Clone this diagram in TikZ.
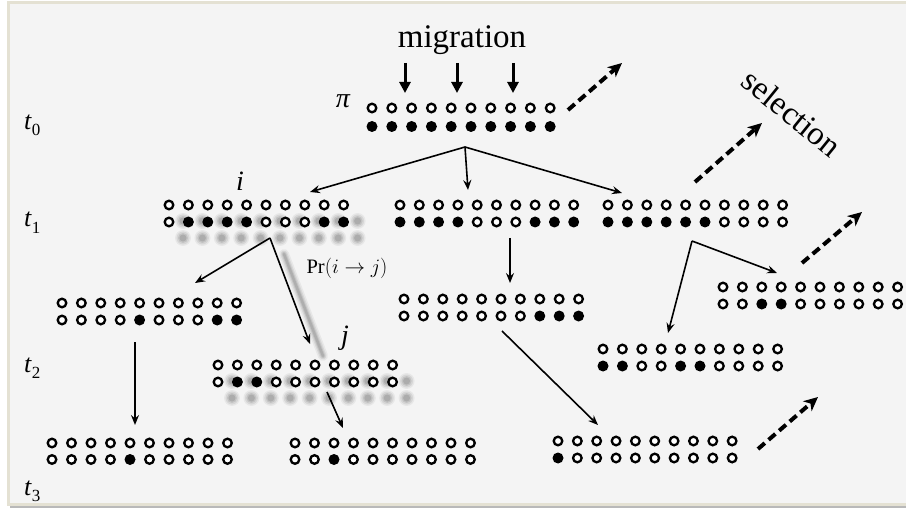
\RequirePackage{fix-cm}
\documentclass[tikz,border=0pt]{standalone}
\usepackage{fontspec}
\setmainfont{Liberation Serif}
\usetikzlibrary{arrows.meta}
\definecolor{bgc}{HTML}{F4F4F4}
\definecolor{framec}{HTML}{E4E1D3}
\newcommand\dotgrp[6]{% name, x, y, dx, dy, bottom pattern
  \coordinate (#1) at (#2,#3);
  \foreach \k in {0,...,9} {\draw[odot] (#2+\k*#4,#3) circle (4.3);}
  \foreach \b [count=\k from 0] in {#6} {%
    \ifnum\b=1 \fill[fdot] (#2+\k*#4,#3+#5) circle (5.5);
    \else \draw[odot] (#2+\k*#4,#3+#5) circle (4.3);\fi}
}
\newcommand\grpshadow[2]{%
  \foreach \k in {0,...,9} {
    \foreach \r/\o in {8/0.05,6.5/0.07,5/0.09,3.5/0.11} {
      \fill[black,opacity=\o] (#1+14+\k*19.4,#2+16) circle (\r);
      \fill[black,opacity=\o] (#1+14+\k*19.4,#2+33) circle (\r);
    }}
}
\begin{document}
\begin{tikzpicture}[x=1pt,y=-1pt,
  odot/.style={draw=black,line width=2.3,fill=white},
  fdot/.style={fill=black},
  arr/.style={line width=1.6,-{Stealth[length=10pt,width=8pt,inset=3.5pt]}},
  mig/.style={line width=3,-{Triangle[length=11pt,width=11pt]}},
  dsh/.style={line width=4,dash pattern=on 9pt off 5pt,-{Stealth[length=14pt,width=13pt,inset=4pt]}},
  big/.style={font=\fontsize{33}{36}\selectfont},
  lab/.style={font=\fontsize{28}{30}\selectfont\itshape},
  tlab/.style={anchor=base west,inner sep=0pt}]
\useasboundingbox (0,0) rectangle (906,508);
\fill[white] (0,0) rectangle (906,508);
\fill[gray!55] (10,505) rectangle (906,508);
\draw[framec,line width=3,fill=bgc] (8,3) rectangle (912,504);

% time labels
\node[tlab] (t0) at (24,130) {\fontsize{26}{28}\selectfont\textit{t}\raisebox{-6pt}{\fontsize{17}{18}\selectfont 0}};
\node[tlab] (t1) at (24,227) {\fontsize{26}{28}\selectfont\textit{t}\raisebox{-6pt}{\fontsize{17}{18}\selectfont 1}};
\node[tlab] (t2) at (24,372) {\fontsize{26}{28}\selectfont\textit{t}\raisebox{-6pt}{\fontsize{17}{18}\selectfont 2}};
\node[tlab] (t3) at (24,495) {\fontsize{26}{28}\selectfont\textit{t}\raisebox{-6pt}{\fontsize{17}{18}\selectfont 3}};

% texts
\node[big,anchor=base] (migt) at (462,48) {migration};
\node[big,rotate=-39,inner sep=0pt] (selt) at (792,113) {selection};
\node[lab,anchor=base] (pi) at (343,108) {π};
\node[lab,anchor=base] (li) at (240,191) {i};
\node[lab,anchor=base] (lj) at (345,344) {j};
\node (pr) at (347,268) {\fontsize{20.5}{24}\selectfont $\Pr(i\to j)$};

% shadows of the highlighted lineage
\grpshadow{169}{205}
\grpshadow{218}{365}
\foreach \w/\o in {10/0.05,7/0.07,4.5/0.09,2.5/0.1}
  \draw[black,opacity=\o,line width=\w,line cap=round] (284,254) -- (323,356);

% groups
\dotgrp{g0}{372}{108}{19.8}{18.5}{1,1,1,1,1,1,1,1,1,1}
\dotgrp{g1a}{169}{205}{19.4}{17}{0,1,1,1,1,0,0,0,1,1}
\dotgrp{g1b}{400}{205}{19.3}{17}{1,1,1,1,0,0,0,1,1,1}
\dotgrp{g1c}{608}{205}{19.4}{17}{1,1,1,1,1,1,0,0,0,0}
\dotgrp{g2c}{723}{287}{19.4}{17}{0,0,1,1,0,0,0,0,0,0}
\dotgrp{g2b}{404}{299}{19.4}{17}{0,0,0,0,0,0,0,1,1,1}
\dotgrp{g2a}{62}{303}{19.4}{17}{0,0,0,0,1,0,0,0,1,1}
\dotgrp{g2d}{603}{349}{19.4}{17}{1,1,0,0,1,1,0,0,0,0}
\dotgrp{g2j}{218}{365}{19.4}{17}{0,1,1,0,0,0,0,0,0,0}
\dotgrp{g3a}{52}{443}{19.5}{16.5}{0,0,0,0,1,0,0,0,0,0}
\dotgrp{g3b}{295}{443}{19.5}{16.5}{0,0,1,0,0,0,0,0,0,0}
\dotgrp{g3c}{558}{441}{19.35}{17}{1,0,0,0,0,0,0,0,0,0}

% connector points
\coordinate (a0) at (465,147);
\coordinate (a1) at (270,238);
\coordinate (a2) at (692,241);
\coordinate (e1a) at (310,192);
\coordinate (e1b) at (468,190);
\coordinate (e1c) at (622,193);
\coordinate (e2a) at (195,283);
\coordinate (e2j) at (310,344);
\coordinate (s1b) at (510,238);
\coordinate (e2b) at (510,283);
\coordinate (e2c) at (777,273);
\coordinate (e2d) at (668,333);
\coordinate (s2a) at (135,342);
\coordinate (e3a) at (135,425);
\coordinate (s2b) at (502,331);
\coordinate (e3c) at (598,425);
\coordinate (s2j) at (327,392);
\coordinate (e3b) at (343,428);

\draw[arr] (a0) -- (e1a);
\draw[arr] (a0) -- (e1b);
\draw[arr] (a0) -- (e1c);
\draw[arr] (a1) -- (e2a);
\draw[arr] (a1) -- (e2j);
\draw[arr] (s1b) -- (e2b);
\draw[arr] (a2) -- (e2c);
\draw[arr] (a2) -- (e2d);
\draw[arr] (s2a) -- (e3a);
\draw[arr] (s2b) -- (e3c);
\draw[arr] (s2j) -- (e3b);

% migration arrows
\foreach \x [count=\n] in {405,457,513} {
  \coordinate (m\n s) at (\x,63);
  \coordinate (m\n e) at (\x,93);
  \draw[mig] (m\n s) -- (m\n e);
}

% selection arrows
\coordinate (d1s) at (568,110); \coordinate (d1e) at (622,63);
\coordinate (d2s) at (695,182); \coordinate (d2e) at (762,123);
\coordinate (d3s) at (802,263); \coordinate (d3e) at (862,212);
\coordinate (d4s) at (758,449); \coordinate (d4e) at (818,397);
\draw[dsh] (d1s) -- (d1e);
\draw[dsh] (d2s) -- (d2e);
\draw[dsh] (d3s) -- (d3e);
\draw[dsh] (d4s) -- (d4e);
\end{tikzpicture}
\end{document}
